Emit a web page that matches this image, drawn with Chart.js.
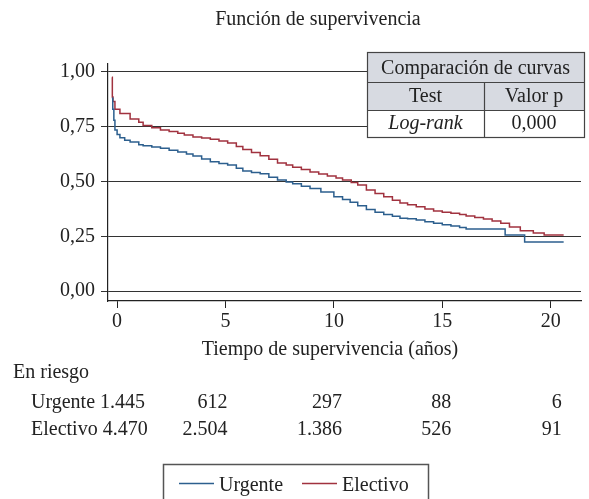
<!DOCTYPE html>
<html>
<head>
<meta charset="utf-8">
<script src="https://cdn.jsdelivr.net/npm/chart.js@4.4.1/dist/chart.umd.min.js"></script>
<style>
  html, body { margin: 0; padding: 0; background: #fff; }
</style>
</head>
<body>
<canvas id="grafico_km" width="589" height="499"></canvas>
<script>
// curvas de Kaplan-Meier (tiempo en años, supervivencia)
var tiempoUrgente = [-0.24, -0.2, -0.15, -0.1, 0, 0.13, 0.35, 0.6, 1.0, 1.2, 1.6, 2.0, 2.4, 2.8, 3.2, 3.5, 3.9, 4.3, 4.7, 5.1, 5.5, 5.8, 6.2, 6.6, 7.0, 7.4, 7.8, 8.1, 8.5, 8.9, 9.4, 10.0, 10.4, 10.75, 11.1, 11.5, 11.9, 12.3, 12.7, 13.05, 13.4, 13.8, 14.2, 14.6, 15.0, 15.4, 15.8, 16.1, 17.9, 18.8, 20.6];
var survUrgente = [0.88, 0.83, 0.78, 0.735, 0.715, 0.70, 0.688, 0.68, 0.668, 0.663, 0.657, 0.652, 0.643, 0.635, 0.625, 0.616, 0.603, 0.59, 0.582, 0.575, 0.561, 0.548, 0.541, 0.535, 0.52, 0.507, 0.498, 0.49, 0.478, 0.468, 0.452, 0.43, 0.418, 0.405, 0.39, 0.372, 0.36, 0.35, 0.342, 0.333, 0.33, 0.325, 0.317, 0.31, 0.303, 0.297, 0.29, 0.283, 0.256, 0.224, 0.224];

var tiempoElectivo = [-0.24, -0.22, -0.19, -0.1, 0.13, 0.6, 1.0, 1.2, 1.6, 2.0, 2.4, 2.8, 3.1, 3.5, 3.9, 4.3, 4.7, 5.1, 5.5, 5.8, 6.2, 6.6, 7.0, 7.4, 7.8, 8.1, 8.5, 8.9, 9.3, 9.7, 10.1, 10.4, 10.8, 11.1, 11.5, 11.9, 12.3, 12.7, 13.05, 13.4, 13.8, 14.2, 14.6, 15.0, 15.4, 15.8, 16.1, 16.5, 16.9, 17.3, 17.7, 18.1, 18.6, 19.2, 19.7, 20.6];
var survElectivo = [0.975, 0.885, 0.865, 0.83, 0.81, 0.785, 0.77, 0.755, 0.745, 0.735, 0.728, 0.72, 0.712, 0.703, 0.698, 0.693, 0.685, 0.676, 0.66, 0.646, 0.632, 0.617, 0.601, 0.585, 0.575, 0.565, 0.555, 0.543, 0.534, 0.525, 0.516, 0.507, 0.495, 0.484, 0.461, 0.445, 0.43, 0.415, 0.402, 0.394, 0.385, 0.375, 0.365, 0.36, 0.355, 0.349, 0.343, 0.336, 0.329, 0.32, 0.31, 0.293, 0.275, 0.265, 0.256, 0.256];

var ticksX = [0, 5, 10, 15, 20];
var ticksY = [0, 0.25, 0.5, 0.75, 1];

// numero en riesgo
var tiemposRiesgo = [0, 5, 10, 15, 20];
var riesgoUrgente = [1445, 612, 297, 88, 6];
var riesgoElectivo = [4470, 2504, 1386, 526, 91];

var grupos = ['Urgente', 'Electivo'];
var colores = ['#2c5f8e', '#a1323f'];

var tablaTitulo = 'Comparación de curvas';
var tablaColumnas = ['Test', 'Valor p'];
var tablaFila = ['Log-rank', '0,000'];

var fuente = '"Liberation Serif", "Times New Roman", serif';

function puntos(ts, ss) {
  return ts.map(function(t, i) { return { x: t, y: ss[i] }; });
}

function miles(n) {
  return String(n).replace(/\B(?=(\d{3})+(?!\d))/g, '.');
}

var extras = {
  id: 'extras',
  afterDraw: function(chart) {
    var ctx = chart.ctx;
    var xs = chart.scales.x;
    ctx.save();
    ctx.fillStyle = '#222';
    ctx.textBaseline = 'alphabetic';
    ctx.font = '20px ' + fuente;

    // titulos
    ctx.textAlign = 'center';
    ctx.fillText('Función de supervivencia', 318, 25);
    ctx.fillText('Tiempo de supervivencia (años)', 330, 355);

    // tabla de riesgo
    ctx.textAlign = 'left';
    ctx.fillText('En riesgo', 13, 378);
    var filas = [riesgoUrgente, riesgoElectivo];
    var ys = [408, 435];
    var desplaz = [0, 2, 8, 9, 11];
    filas.forEach(function(r, k) {
      ctx.textAlign = 'left';
      ctx.fillText(grupos[k] + ' ' + miles(r[0]), 31, ys[k]);
      ctx.textAlign = 'right';
      for (var i = 1; i < r.length; i++) {
        ctx.fillText(miles(r[i]), xs.getPixelForValue(tiemposRiesgo[i]) + desplaz[i], ys[k]);
      }
    });

    // tabla de comparacion
    var L = 367, R = 584, M = 484, T = 52, r1 = 82, r2 = 110, B = 137;
    ctx.fillStyle = '#d7dae1';
    ctx.fillRect(L, T, R - L, r2 - T);
    ctx.fillStyle = '#fff';
    ctx.fillRect(L, r2, R - L, B - r2);
    ctx.strokeStyle = '#444';
    ctx.lineWidth = 1.2;
    ctx.strokeRect(L + 0.5, T + 0.5, R - L, B - T);
    ctx.beginPath();
    ctx.moveTo(L, r1 + 0.5); ctx.lineTo(R, r1 + 0.5);
    ctx.moveTo(L, r2 + 0.5); ctx.lineTo(R, r2 + 0.5);
    ctx.moveTo(M + 0.5, r1); ctx.lineTo(M + 0.5, B);
    ctx.stroke();
    ctx.fillStyle = '#222';
    ctx.textAlign = 'center';
    ctx.fillText(tablaTitulo, (L + R) / 2, 74);
    ctx.fillText(tablaColumnas[0], (L + M) / 2, 102);
    ctx.fillText(tablaColumnas[1], (M + R) / 2, 102);
    ctx.font = 'italic 20px ' + fuente;
    ctx.fillText(tablaFila[0], (L + M) / 2, 129);
    ctx.font = '20px ' + fuente;
    ctx.fillText(tablaFila[1], (M + R) / 2, 129);

    // leyenda
    ctx.strokeStyle = '#555';
    ctx.lineWidth = 1.5;
    ctx.strokeRect(163.5, 464.5, 265, 45);
    var lx = [179, 302];
    grupos.forEach(function(g, k) {
      ctx.strokeStyle = colores[k];
      ctx.lineWidth = 1.5;
      ctx.beginPath();
      ctx.moveTo(lx[k], 483.5);
      ctx.lineTo(lx[k] + 35, 483.5);
      ctx.stroke();
      ctx.fillStyle = '#222';
      ctx.textAlign = 'left';
      ctx.fillText(g, lx[k] + 40, 491);
    });
    ctx.restore();
  }
};

new Chart(document.getElementById('grafico_km'), {
  type: 'line',
  data: {
    datasets: [{
      label: grupos[0],
      data: puntos(tiempoUrgente, survUrgente),
      borderColor: colores[0],
      borderWidth: 1.5,
      pointRadius: 0,
      stepped: true,
      fill: false
    }, {
      label: grupos[1],
      data: puntos(tiempoElectivo, survElectivo),
      borderColor: colores[1],
      borderWidth: 1.5,
      pointRadius: 0,
      stepped: true,
      fill: false
    }]
  },
  options: {
    responsive: false,
    animation: false,
    devicePixelRatio: 1,
    layout: { padding: { top: 64, right: 8, bottom: 168, left: 0 } },
    plugins: {
      legend: { display: false },
      title: { display: false },
      tooltip: { enabled: false }
    },
    scales: {
      x: {
        type: 'linear',
        min: -0.42,
        max: 21.4,
        afterBuildTicks: function(s) { s.ticks = ticksX.map(function(v) { return { value: v }; }); },
        afterFit: function(s) { s.height = 30; },
        ticks: { font: { family: fuente, size: 20 }, color: '#222', padding: 2, maxRotation: 0, autoSkip: false },
        grid: { drawOnChartArea: false, drawTicks: true, tickLength: 7, color: '#222', lineWidth: 1 },
        border: { display: true, color: '#222', width: 1.2 }
      },
      y: {
        min: -0.045,
        max: 1.036,
        afterBuildTicks: function(s) { s.ticks = ticksY.map(function(v) { return { value: v }; }); },
        afterFit: function(s) { s.width = 108; },
        ticks: {
          font: { family: fuente, size: 20 }, color: '#222', padding: 6,
          callback: function(v) { return v.toFixed(2).replace('.', ','); }
        },
        grid: { color: '#333', lineWidth: 1, tickLength: 7 },
        border: { display: true, color: '#222', width: 1.2 }
      }
    }
  },
  plugins: [extras]
});
</script>
</body>
</html>
